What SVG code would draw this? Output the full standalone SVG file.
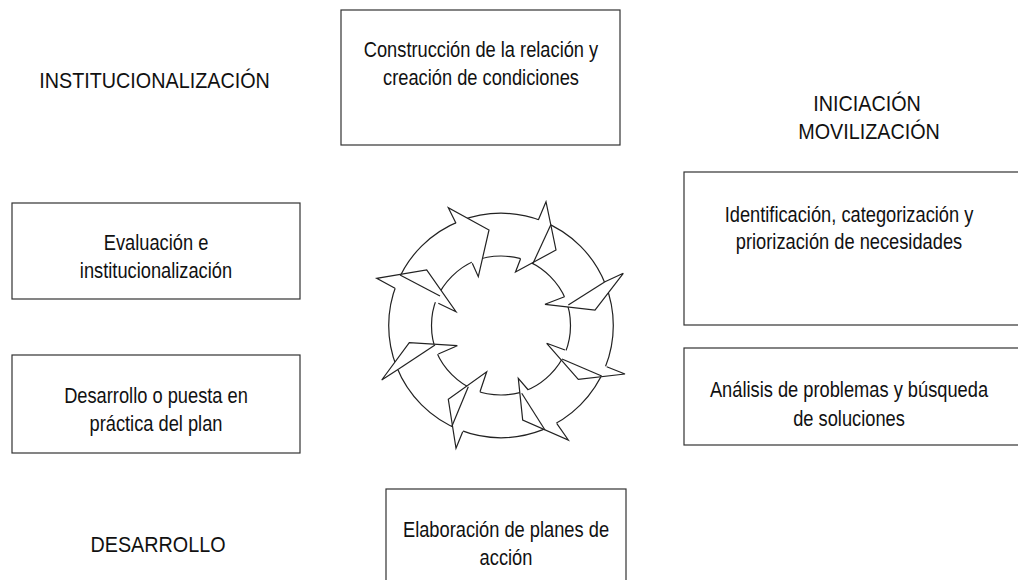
<svg xmlns="http://www.w3.org/2000/svg" width="1018" height="580" viewBox="0 0 1018 580">
<style>
.box{fill:#fff;stroke:#333;stroke-width:1.2}
.t{font-family:"Liberation Sans",Arial,sans-serif;font-size:21.5px;fill:#111;text-anchor:middle}
.ring{fill:none;stroke:#222;stroke-width:1.2}
.mask{fill:#fff;stroke:none}
.ln{fill:none;stroke:#222;stroke-width:1.2;stroke-linejoin:miter}
</style>
<rect width="1018" height="580" fill="#fff"/>
<g id="node-construccion">
<rect class="box" x="341" y="10" width="279" height="135"/>
<text class="t" transform="translate(481,57) scale(0.85,1)">Construcción de la relación y</text>
<text class="t" transform="translate(481,85) scale(0.85,1)">creación de condiciones</text>
</g>
<g id="label-institucionalizacion">
<text class="t" transform="translate(154.5,88) scale(0.92,1)">INSTITUCIONALIZACIÓN</text>
</g>
<g id="label-iniciacion">
<text class="t" transform="translate(867,111) scale(0.92,1)">INICIACIÓN</text>
<text class="t" transform="translate(869,139) scale(0.92,1)">MOVILIZACIÓN</text>
</g>
<g id="node-evaluacion">
<rect class="box" x="12" y="203" width="288" height="96"/>
<text class="t" transform="translate(156,250) scale(0.85,1)">Evaluación e</text>
<text class="t" transform="translate(156,278) scale(0.85,1)">institucionalización</text>
</g>
<g id="node-desarrollo">
<rect class="box" x="12" y="355" width="288" height="98"/>
<text class="t" transform="translate(156,403) scale(0.85,1)">Desarrollo o puesta en</text>
<text class="t" transform="translate(156,431) scale(0.85,1)">práctica del plan</text>
</g>
<g id="node-identificacion">
<rect class="box" x="684" y="172" width="340" height="153"/>
<text class="t" transform="translate(849,222) scale(0.85,1)">Identificación, categorización y</text>
<text class="t" transform="translate(849,249) scale(0.85,1)">priorización de necesidades</text>
</g>
<g id="node-analisis">
<rect class="box" x="684" y="348" width="340" height="97"/>
<text class="t" transform="translate(849,397) scale(0.85,1)">Análisis de problemas y búsqueda</text>
<text class="t" transform="translate(849,426) scale(0.85,1)">de soluciones</text>
</g>
<g id="node-elaboracion">
<rect class="box" x="386" y="489" width="240" height="100"/>
<text class="t" transform="translate(506,537) scale(0.85,1)">Elaboración de planes de</text>
<text class="t" transform="translate(506,565) scale(0.85,1)">acción</text>
</g>
<g id="label-desarrollo">
<text class="t" transform="translate(158,552) scale(0.92,1)">DESARROLLO</text>
</g>
<g id="connectors">
<circle class="ring" cx="501" cy="325.5" r="112.3"/>
<circle class="ring" cx="501" cy="325.5" r="69.5"/>
<g id="arrow1"><polygon class="mask" points="456,223.3 448.3,207.7 489,230 478.3,276.7 472.3,263.3"/><polyline class="ln" points="456,223.3 448.3,207.7 489,230 478.3,276.7 472.3,263.3"/></g>
<g id="arrow2"><polygon class="mask" points="538.3,220 546,201.7 556,250 515.5,272 520.5,259"/><polyline class="ln" points="538.3,220 546,201.7 556,250 515.5,272 520.5,259"/><line class="ln" x1="550.7" y1="225" x2="532.7" y2="264"/></g>
<g id="arrow3"><polygon class="mask" points="605,281.7 623.3,273.3 595,310 545,304.3 564.5,296.7"/><polyline class="ln" points="605,281.7 623.3,273.3 595,310 545,304.3 564.5,296.7"/><line class="ln" x1="568.3" y1="305" x2="605" y2="281.7"/></g>
<g id="arrow4"><polygon class="mask" points="606.7,366.7 625,374 578.3,379.3 546.7,343.3 565,350"/><polyline class="ln" points="606.7,366.7 625,374 578.3,379.3 546.7,343.3 565,350"/><line class="ln" x1="601.7" y1="376" x2="562" y2="359"/></g>
<g id="arrow5"><polygon class="mask" points="556.7,423.3 568.3,440 522.7,420 518.3,378.3 528.3,390"/><polyline class="ln" points="556.7,423.3 568.3,440 522.7,420 518.3,378.3 528.3,390"/><line class="ln" x1="545" y1="430" x2="521.7" y2="393.3"/></g>
<g id="arrow6"><polygon class="mask" points="462.7,431.7 456,448.3 448.3,399.3 486.7,371.7 480,391.7"/><polyline class="ln" points="462.7,431.7 456,448.3 448.3,399.3 486.7,371.7 480,391.7"/><line class="ln" x1="451.7" y1="426.7" x2="468.3" y2="386.7"/></g>
<g id="arrow7"><polygon class="mask" points="398.3,369.3 381.7,380 409.3,342.7 457.3,345.7 438.3,354"/><polyline class="ln" points="398.3,369.3 381.7,380 409.3,342.7 457.3,345.7 438.3,354"/><line class="ln" x1="435" y1="345" x2="398.3" y2="369.3"/></g>
<g id="arrow8"><polygon class="mask" points="395,288.3 376.7,278.3 426.7,270 456,311.7 438.3,303.3"/><polyline class="ln" points="395,288.3 376.7,278.3 426.7,270 456,311.7 438.3,303.3"/><line class="ln" x1="400" y1="275" x2="440" y2="296"/></g>
</g>
</svg>
